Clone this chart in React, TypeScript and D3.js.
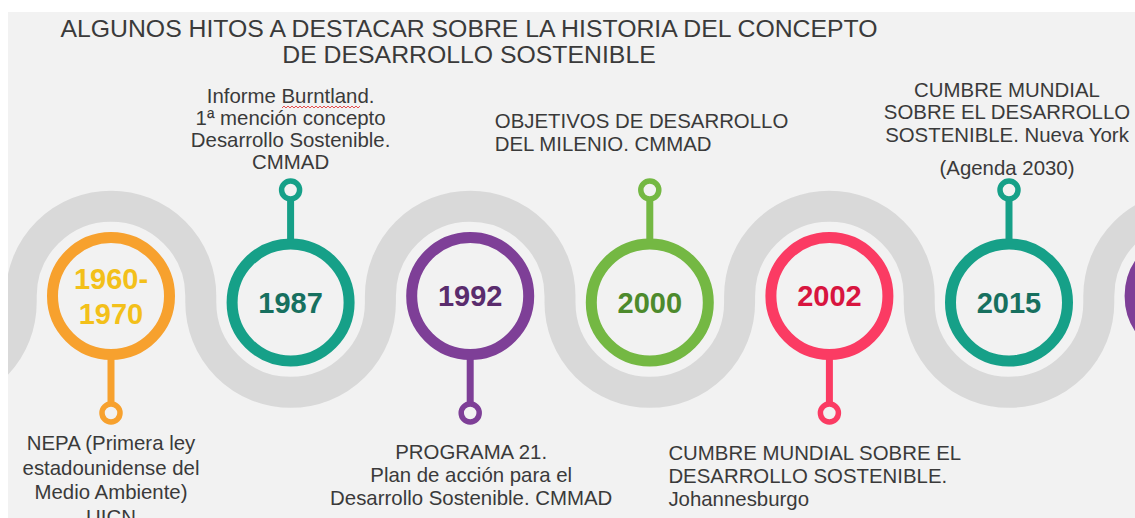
import React from "react";
import * as d3 from "d3";

// ---- Data ----
const years: string[][] = [["1960-", "1970"], ["1987"], ["1992"], ["2000"], ["2002"], ["2015"]];
const descriptions: string[][] = [
  ["NEPA (Primera ley", "estadounidense del", "Medio Ambiente)", "UICN"],
  ["Informe Burntland.", "1ª mención concepto", "Desarrollo Sostenible.", "CMMAD"],
  ["PROGRAMA 21.", "Plan de acción para el", "Desarrollo Sostenible. CMMAD"],
  ["OBJETIVOS DE DESARROLLO", "DEL MILENIO. CMMAD"],
  ["CUMBRE MUNDIAL SOBRE EL", "DESARROLLO SOSTENIBLE.", "Johannesburgo"],
  ["CUMBRE MUNDIAL", "SOBRE EL DESARROLLO", "SOSTENIBLE. Nueva York", "", "(Agenda 2030)"],
];
const titleLines: string[] = [
  "ALGUNOS HITOS A DESTACAR SOBRE LA HISTORIA DEL CONCEPTO",
  "DE DESARROLLO SOSTENIBLE",
];

// ---- Styles ----
const ringColors = ["#f7a12e", "#16a088", "#7e3f97", "#74b843", "#fb3b63", "#16a088", "#7e3f97"];
const yearColors = ["#f3c01a", "#17705f", "#5a2c6d", "#4d8a2c", "#d8153f", "#17705f"];
const W = 1135;
const H = 518;
const BG = "#f2f2f2";
const BAND = "#d9d9d9";
const TEXT = "#3a3a3a";
const FONT = "'Liberation Sans', Arial, sans-serif";

// layout of text blocks: anchor, x offset from circle center, first baseline, line spacing
const textLayout = [
  { anchor: "middle", dx: 0, y0: 450, lh: 24.5 },
  { anchor: "middle", dx: 0, y0: 103, lh: 22 },
  { anchor: "middle", dx: 1, y0: 459, lh: 23 },
  { anchor: "start", dx: -155, y0: 128, lh: 23 },
  { anchor: "start", dx: -161, y0: 460, lh: 23 },
  { anchor: "middle", dx: -2, y0: 97, lh: 22.3 },
];

export default function App() {
  const x = d3.scaleLinear().domain([0, 5]).range([111, 1009]);
  const step = x(1) - x(0);
  const cyOf = (i: number) => (((i % 2) + 2) % 2 === 0 ? 296 : 302.5);
  const rBand = step / 2;
  const ringR = 58.5;
  const ringW = 11;

  // serpentine band
  const p = d3.path();
  for (let i = -1; i <= 7; i++) {
    const cx = x(i);
    const cy = cyOf(i);
    const up = ((i % 2) + 2) % 2 === 0;
    if (i === -1) p.moveTo(cx - rBand, cy);
    else p.lineTo(cx - rBand, cy);
    if (up) p.arc(cx, cy, rBand, Math.PI, 2 * Math.PI, false);
    else p.arc(cx, cy, rBand, Math.PI, 0, true);
  }

  const idx = d3.range(7);

  return (
    <svg
      width={W}
      height={H}
      style={{ position: "absolute", left: 0, top: 0, display: "block" }}
      fontFamily={FONT}
    >
      <defs>
        <clipPath id="bgclip">
          <rect x={8} y={12} width={W - 8} height={H - 12} />
        </clipPath>
      </defs>
      <rect x={0} y={0} width={W} height={H} fill="#ffffff" />
      <rect x={8} y={12} width={W - 8} height={H - 12} fill={BG} />
      <g clipPath="url(#bgclip)">
        <path d={p.toString()} fill="none" stroke={BAND} strokeWidth={31} />
        {idx.map((i) => {
          const cx = x(i);
          const cy = cyOf(i);
          const down = i % 2 === 0;
          const pinY = down ? 413 : 190;
          const pinR = 9;
          const col = ringColors[i];
          const stemY1 = down ? cy + ringR : cy - ringR;
          const stemY2 = down ? pinY - pinR : pinY + pinR;
          return (
            <g key={i}>
              <line x1={cx} x2={cx} y1={stemY1} y2={stemY2} stroke={col} strokeWidth={7} />
              <circle cx={cx} cy={pinY} r={pinR} fill={BG} stroke={col} strokeWidth={5.5} />
              <circle cx={cx} cy={cy} r={ringR} fill={BG} stroke={col} strokeWidth={ringW} />
              {i < years.length &&
                years[i].map((t, k) => (
                  <text
                    key={k}
                    x={cx}
                    y={cy + (k - (years[i].length - 1) / 2) * 35 + 10}
                    textAnchor="middle"
                    fontSize={29}
                    fontWeight="bold"
                    fill={yearColors[i]}
                  >
                    {t}
                  </text>
                ))}
            </g>
          );
        })}
        {descriptions.map((lines, i) => {
          const L = textLayout[i];
          return (
            <g key={i}>
              {lines.map((t, k) => (
                <text
                  key={k}
                  x={x(i) + L.dx}
                  y={L.y0 + k * L.lh - (i === 5 && k === 4 ? 11 : 0)}
                  textAnchor={L.anchor as any}
                  fontSize={20.4}
                  fill={TEXT}
                >
                  {t}
                </text>
              ))}
            </g>
          );
        })}
        {/* spell-check squiggle under "Burntland" */}
        <path
          d={d3.range(0, 40).map((k) => `${k === 0 ? "M" : "L"}${282 + k * 2},${k % 2 ? 106 : 108}`).join(" ")}
          fill="none"
          stroke="#e23b3b"
          strokeWidth={0.9}
        />
        {titleLines.map((t, k) => (
          <text key={k} x={469} y={37 + k * 26} textAnchor="middle" fontSize={24.8} fill={TEXT}>
            {t}
          </text>
        ))}
      </g>
    </svg>
  );
}
